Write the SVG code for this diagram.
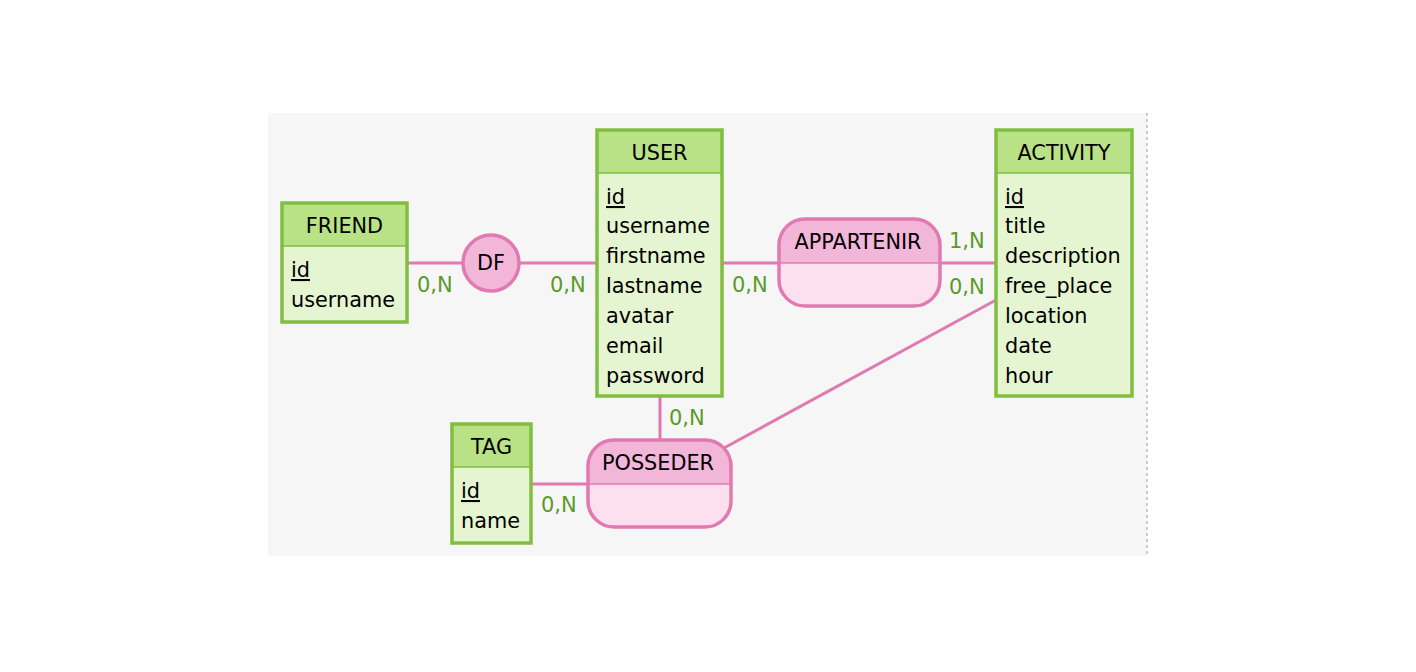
<svg xmlns="http://www.w3.org/2000/svg" width="1416" height="672" viewBox="0 0 1416 672">
<style>
text{font-family:"DejaVu Sans",Verdana,sans-serif;font-size:20.8px;fill:#000}
.hd{text-anchor:middle}
.card{font-size:21px;fill:#5a9a28}
.ent{stroke:#80bd40;stroke-width:3.5}
.eh{fill:#b9e286}
.eb{fill:#e6f5d1}
.div{stroke:#80bd40;stroke-width:1.5}
.rel{stroke:#e07ab0;stroke-width:3.5}
.rh{fill:#f2b6d9}
.rb{fill:#fde0ef}
.rdiv{stroke:#e07ab0;stroke-width:1.5}
.ln{stroke:#e07ab0;stroke-width:3;fill:none}
.u{text-decoration:underline}
</style>
<rect x="268" y="113" width="879" height="443" fill="#f6f6f6"/>
<line x1="1147" y1="113" x2="1147" y2="556" stroke="#999" stroke-width="1" stroke-dasharray="3,3"/>
<g id="connectors">
<line class="ln" x1="407" y1="263" x2="463" y2="263"/>
<line class="ln" x1="519" y1="263" x2="597" y2="263"/>
<line class="ln" x1="722" y1="263" x2="779" y2="263"/>
<line class="ln" x1="940" y1="263" x2="996" y2="263"/>
<line class="ln" x1="660" y1="396" x2="660" y2="440"/>
<line class="ln" x1="531" y1="484" x2="588" y2="484"/>
<line class="ln" x1="724" y1="448" x2="996" y2="300"/>
<text class="card" x="417" y="292">0,N</text>
<text class="card" x="550" y="292">0,N</text>
<text class="card" x="732" y="292">0,N</text>
<text class="card" x="949" y="248">1,N</text>
<text class="card" x="949" y="294">0,N</text>
<text class="card" x="669" y="425">0,N</text>
<text class="card" x="541" y="512">0,N</text>
</g>
<g id="FRIEND">
<rect class="eb" x="282" y="203" width="125" height="119"/>
<rect class="eh" x="282" y="203" width="125" height="43"/>
<line class="div" x1="282" y1="246" x2="407" y2="246"/>
<rect class="ent" x="282" y="203" width="125" height="119" fill="none"/>
<text class="hd" x="344.5" y="233">FRIEND</text>
<text class="u" x="291" y="277">id</text>
<text x="291" y="307">username</text>
</g>
<g id="USER">
<rect class="eb" x="597" y="130" width="125" height="266"/>
<rect class="eh" x="597" y="130" width="125" height="43"/>
<line class="div" x1="597" y1="173" x2="722" y2="173"/>
<rect class="ent" x="597" y="130" width="125" height="266" fill="none"/>
<text class="hd" x="659.5" y="160">USER</text>
<text class="u" x="606" y="204">id</text>
<text x="606" y="233">username</text>
<text x="606" y="263">firstname</text>
<text x="606" y="293">lastname</text>
<text x="606" y="323">avatar</text>
<text x="606" y="353">email</text>
<text x="606" y="383">password</text>
</g>
<g id="ACTIVITY">
<rect class="eb" x="996" y="130" width="136" height="266"/>
<rect class="eh" x="996" y="130" width="136" height="43"/>
<line class="div" x1="996" y1="173" x2="1132" y2="173"/>
<rect class="ent" x="996" y="130" width="136" height="266" fill="none"/>
<text class="hd" x="1064" y="160">ACTIVITY</text>
<text class="u" x="1005" y="204">id</text>
<text x="1005" y="233">title</text>
<text x="1005" y="263">description</text>
<text x="1005" y="293">free_place</text>
<text x="1005" y="323">location</text>
<text x="1005" y="353">date</text>
<text x="1005" y="383">hour</text>
</g>
<g id="TAG">
<rect class="eb" x="452" y="424" width="79" height="119"/>
<rect class="eh" x="452" y="424" width="79" height="43"/>
<line class="div" x1="452" y1="467" x2="531" y2="467"/>
<rect class="ent" x="452" y="424" width="79" height="119" fill="none"/>
<text class="hd" x="491.5" y="454">TAG</text>
<text class="u" x="461" y="498">id</text>
<text x="461" y="528">name</text>
</g>
<g id="DF">
<circle class="rel rh" cx="491" cy="263" r="28"/>
<text class="hd" x="491" y="270">DF</text>
</g>
<g id="APPARTENIR">
<clipPath id="cpA"><rect x="779" y="219" width="161" height="87" rx="26"/></clipPath>
<g clip-path="url(#cpA)">
<rect class="rb" x="779" y="219" width="161" height="87"/>
<rect class="rh" x="779" y="219" width="161" height="44"/>
</g>
<line class="rdiv" x1="779" y1="263" x2="940" y2="263"/>
<rect class="rel" x="779" y="219" width="161" height="87" rx="26" fill="none"/>
<text class="hd" x="858" y="249">APPARTENIR</text>
</g>
<g id="POSSEDER">
<clipPath id="cpP"><rect x="588" y="440" width="143" height="87" rx="26"/></clipPath>
<g clip-path="url(#cpP)">
<rect class="rb" x="588" y="440" width="143" height="87"/>
<rect class="rh" x="588" y="440" width="143" height="44"/>
</g>
<line class="rdiv" x1="588" y1="484" x2="731" y2="484"/>
<rect class="rel" x="588" y="440" width="143" height="87" rx="26" fill="none"/>
<text class="hd" x="658" y="470">POSSEDER</text>
</g>
</svg>
